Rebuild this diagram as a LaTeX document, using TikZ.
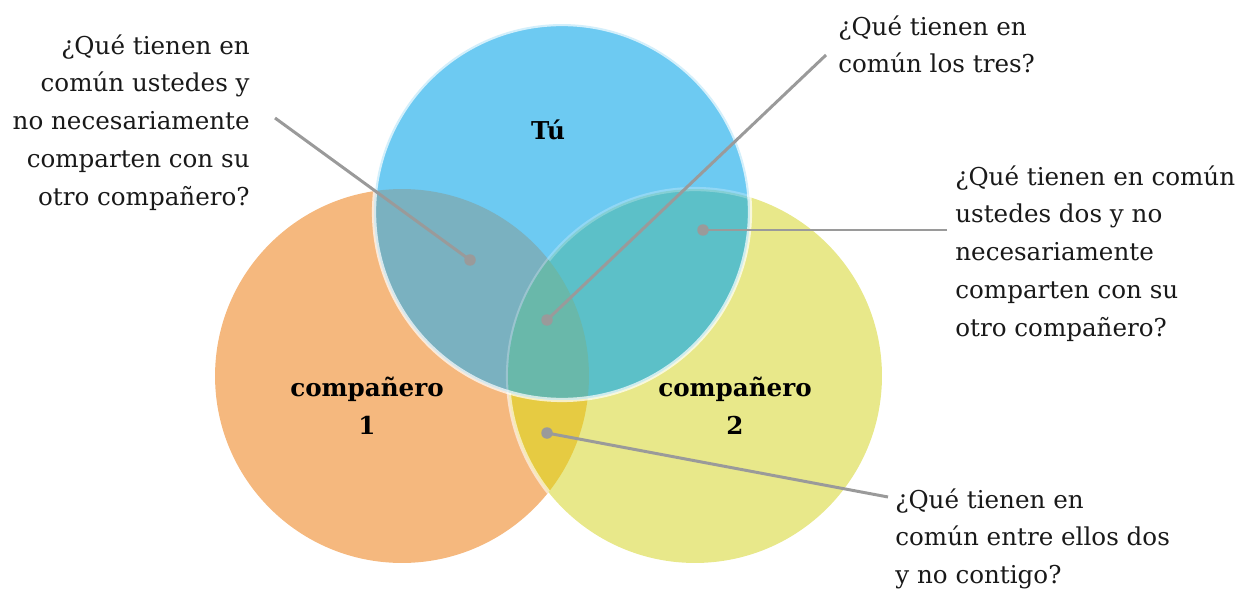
\documentclass[tikz,border=0pt]{standalone}
\usepackage{fontspec}
\setmainfont{DejaVu Serif}
\usetikzlibrary{positioning}
\definecolor{colNaranja}{HTML}{F5B87E}
\definecolor{colAmarillo}{HTML}{E8E88A}
\definecolor{colAzul}{HTML}{6DCAF2}
\definecolor{colNA}{HTML}{E6CB42}
\definecolor{colAzN}{HTML}{7AB1C0}
\definecolor{colAzA}{HTML}{5CC0C8}
\definecolor{colTres}{HTML}{69B8AA}
\definecolor{colGuia}{HTML}{9A9A9A}
\tikzset{
  pregunta/.style={font=\fontsize{14}{21.5}\selectfont, inner sep=0pt, text=black!90},
  etiqueta/.style={font=\bfseries\fontsize{14}{21.5}\selectfont, align=center, inner sep=0pt},
  guia/.style={draw=colGuia, line width=1.7pt},
  punto/.style={circle, fill=colGuia, inner sep=0pt, minimum size=0.23cm},
  borde/.style={draw=white, line width=2.4pt}
}
\def\circNaranja{(402,376) circle[radius=3.74cm]}
\def\circAmarillo{(695,376) circle[radius=3.74cm]}
\def\circAzul{(562,212) circle[radius=3.76cm]}

\begin{document}
\begin{tikzpicture}[x=0.02cm,y=-0.02cm]
    \useasboundingbox (0,0) rectangle (1246,591);
    \fill[colNaranja] \circNaranja;
    \fill[colAmarillo] \circAmarillo;
    \begin{scope}
        \clip \circNaranja;
        \fill[colNA] \circAmarillo;
        \draw[borde, draw opacity=0.6] \circAmarillo;
    \end{scope}
    \fill[colAzul] \circAzul;
    \begin{scope}
        \clip \circAzul;
        \fill[colAzN] \circNaranja;
        \fill[colAzA] \circAmarillo;
        \draw[borde, draw opacity=0.25] \circAmarillo;
        \clip \circNaranja;
        \fill[colTres] \circAmarillo;
    \end{scope}
    \draw[borde, draw opacity=0.7] \circAzul;

    \node[etiqueta] (tu) at (548,130) {Tú};
    \node[etiqueta] (comp1) at (367,406) {compañero\\1};
    \node[etiqueta] (comp2) at (735,406) {compañero\\2};

    \node[pregunta, align=right, anchor=north east] (qUstedes) at (250,34) {¿Qué tienen en\\común ustedes y\\no necesariamente\\comparten con su\\otro compañero?};
    \node[pregunta, align=left, anchor=north west] (qTres) at (838,15) {¿Qué tienen en\\común los tres?};
    \node[pregunta, align=left, anchor=north west] (qDos) at (955,165) {¿Qué tienen en común\\ustedes dos y no\\necesariamente\\comparten con su\\otro compañero?};
    \node[pregunta, align=left, anchor=north west] (qEllos) at (895,488) {¿Qué tienen en\\común entre ellos dos\\y no contigo?};

    \node[punto] (pUstedes) at (470,260) {};
    \node[punto] (pTres) at (547,320) {};
    \node[punto] (pDos) at (703,230) {};
    \node[punto] (pEllos) at (547,433) {};
    \coordinate (cUstedes) at (275,118);
    \coordinate (cTres) at (826,55);
    \coordinate (cDos) at (947,230);
    \coordinate (cEllos) at (888,497);

    \draw[guia] (cUstedes) -- (pUstedes.center);
    \draw[guia] (cTres) -- (pTres.center);
    \draw[guia] (cDos) -- (pDos.center);
    \draw[guia] (cEllos) -- (pEllos.center);
\end{tikzpicture}
\end{document}
